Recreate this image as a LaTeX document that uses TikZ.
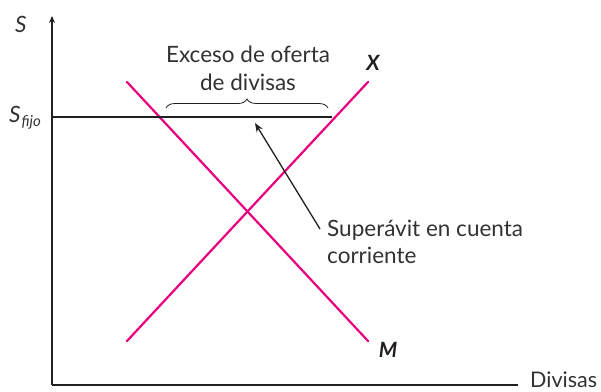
\documentclass[tikz,border=0pt]{standalone}
\usepackage{fontspec}
\setmainfont{Lato}
\usetikzlibrary{decorations.pathreplacing,arrows.meta}
\definecolor{mag}{RGB}{230,0,126}
\definecolor{ink}{RGB}{35,31,32}
\definecolor{txt}{RGB}{50,50,50}
\tikzset{
  axis/.style={draw=ink,line width=1.8pt},
  curve/.style={draw=mag,line width=2.2pt},
  lbl/.style={inner sep=0pt,text=txt,font=\fontsize{22.5}{26}\selectfont},
}
\begin{document}
\begin{tikzpicture}[x=1pt,y=-1pt]
\useasboundingbox (0,0) rectangle (601,391);
% axes
\coordinate (o) at (52,385);
\coordinate (ytop) at (52,16);
\coordinate (xend) at (518,385);
\draw[axis,-{Stealth[length=7pt,width=6pt]}] (o) -- (ytop);
\draw[axis] (o) -- (xend);
\node[lbl,anchor=base west,font=\fontsize{21.5}{24}\selectfont] (div) at (530,387) {Divisas};
\node[lbl,anchor=base west] (S) at (15,32) {\itshape S};
\node[lbl,anchor=base west] (sf) at (9,122) {\itshape S\kern1pt\raisebox{-4pt}{\fontsize{15}{15}\selectfont fijo}};
% curves
\coordinate (x1) at (127,341);
\coordinate (x2) at (368,82);
\coordinate (m1) at (127,82);
\coordinate (m2) at (368,341);
\draw[curve,line cap=round] (x1) -- (x2);
\draw[curve,line cap=round] (m1) -- (m2);
\node[lbl,text=ink,anchor=base,font=\fontsize{21}{24}\selectfont\bfseries\itshape] (X) at (373,70) {X};
\node[lbl,text=ink,anchor=base,font=\fontsize{21}{24}\selectfont\bfseries\itshape] (M) at (388,357) {M};
% fixed rate line
\coordinate (s1) at (52,117);
\coordinate (s2) at (332,117);
\draw[draw=ink,line width=1.4pt] (s1) -- (s2);
% brace
\coordinate (b1) at (166,108);
\coordinate (b2) at (328,108);
\draw[draw=ink,line width=0.8pt,decorate,decoration={brace,amplitude=9pt}] (b1) -- (b2);
\node[lbl,anchor=base] (exc) at (248,62) {Exceso de oferta};
\node[lbl,anchor=base] (exc2) at (248,90) {de divisas};
% annotation
\node[lbl,anchor=base west] (sup) at (327,236) {Superávit en cuenta};
\node[lbl,anchor=base west] (cor) at (327,263) {corriente};
\coordinate (tip) at (255,123);
\coordinate (tail) at (320,229);
\draw[draw=ink,line width=1.3pt,-{Stealth[length=9pt,width=7pt]}] (tail) -- (tip);
\end{tikzpicture}
\end{document}
